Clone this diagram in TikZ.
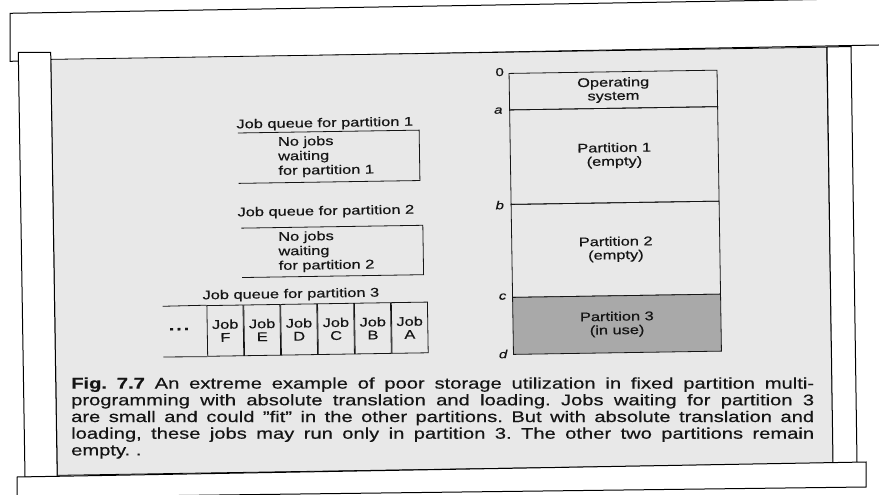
\documentclass[tikz,border=0pt]{standalone}
\usepackage{fontspec}
\newfontfamily\hv[FakeStretch=1.3,FakeBold=0.5,Ligatures=TeX]{Liberation Sans}
\definecolor{pagegray}{HTML}{E8E8E8}
\definecolor{usedgray}{HTML}{A9A9A9}
\definecolor{ink}{HTML}{151515}
\begin{document}
\begin{tikzpicture}[x=1pt,y=-1pt,
  sheet/.style={draw=black,line width=1pt,fill=white,line join=miter},
  boxline/.style={draw=ink,line width=0.8pt},
  lab/.style={font=\hv\fontsize{12.6}{14.5}\selectfont,text=ink,inner sep=0pt,transform shape},
  addr/.style={font=\hv\fontsize{11.5}{12}\selectfont,text=ink,inner sep=0pt,anchor=east,transform shape},
  part/.style={boxline,minimum width=208pt,inner sep=0pt,align=center,
    font=\hv\fontsize{12.6}{13.5}\selectfont,text=ink,transform shape},
  cell/.style={boxline,minimum width=36.1pt,minimum height=50.7pt,inner sep=0pt,align=center,
    font=\hv\fontsize{12.6}{13}\selectfont,text=ink,transform shape},
  slot/.style={minimum width=181pt,minimum height=50pt,inner sep=0pt,transform shape},
]
\useasboundingbox (0,0) rectangle (879,495);
\clip (0,0) rectangle (879,495);
\fill[white] (0,0) rectangle (879,495);

% upper paper strip
\path[sheet] (10,61.3) -- (10,13.3) -- (800,-0.2) -- (900,-2) -- (900,44.6) -- cycle;

% the printed page, tilted a little
\begin{scope}[rotate around={0.9:(442,261.25)}]
  \path[fill=pagegray,draw=black,line width=0.8pt] (54,53.25) rectangle (830,469.25);

  % memory layout
  \node[part,minimum height=36.5pt] (os) at (616,92.75) {Operating\\system};
  \node[part,minimum height=94.5pt] (p1) at (616,158.25) {Partition 1\\(empty)};
  \node[part,minimum height=93pt] (p2) at (616,252) {Partition 2\\(empty)};
  \node[part,minimum height=57pt,fill=usedgray] (p3) at (616,327) {Partition 3\\(in use)};

  \node[addr] (l0) at (507,73) {0};
  \node[addr] (la) at (505,111.5) {\itshape a};
  \node[addr] (lb) at (505,206) {\itshape b};
  \node[addr] (lc) at (506,297.6) {\itshape c};
  \node[addr] (ld) at (506,355) {\itshape d};

  % queue for partition 1
  \node[lab,anchor=base] (t1) at (327,125.2) {Job queue for partition 1};
  \node[slot] (q1) at (330.5,155) {};
  \draw[boxline] (q1.north west) -- (q1.north east) -- (q1.south east) -- (q1.south west);
  \node[lab,anchor=west,align=left] (w1) at (279.7,154.6) {No jobs\\waiting\\for partition 1};

  % queue for partition 2
  \node[lab,anchor=base] (t2) at (326.7,213.2) {Job queue for partition 2};
  \node[slot,minimum height=49pt] (q2) at (332.7,249.7) {};
  \draw[boxline] (q2.north west) -- (q2.north east) -- (q2.south east) -- (q2.south west);
  \node[lab,anchor=west,align=left] (w2) at (278.5,249.6) {No jobs\\waiting\\for partition 2};

  % queue for partition 3
  \node[lab,anchor=base] (t3) at (290.4,295.6) {Job queue for partition 3};
  \node[cell] (jF) at (224.26,327.25) {Job\\F};
  \node[cell,anchor=west] (jE) at (jF.east) {Job\\E};
  \node[cell,anchor=west] (jD) at (jE.east) {Job\\D};
  \node[cell,anchor=west] (jC) at (jD.east) {Job\\C};
  \node[cell,anchor=west] (jB) at (jC.east) {Job\\B};
  \node[cell,anchor=west] (jA) at (jB.east) {Job\\A};
  \coordinate (q3top) at (161.9,301.9);
  \coordinate (q3bot) at (161.9,352.6);
  \draw[boxline] (q3top) -- (jF.north west);
  \draw[boxline] (q3bot) -- (jF.south west);
  \node[lab,font=\hv\bfseries\fontsize{15}{15}\selectfont] (more) at (178,325) {.\kern2pt.\kern2pt.};
\end{scope}

% side strips of paper
\path[sheet] (18.3,52.3) -- (50.7,52.3) -- (57.2,477) -- (25,477) -- cycle;
\path[sheet] (827,47) -- (851,46.5) -- (857,462.5) -- (833,462.5) -- cycle;
% lower paper strip
\path[sheet] (17,497.5) -- (17,477) -- (866,462) -- (866,487) -- cycle;

% caption
\node[anchor=north west,inner sep=0pt,text width=743pt,align=justify,text=ink,
  font=\hv\fontsize{15.5}{16.7}\selectfont] (cap) at (71,377.2)
  {\frenchspacing\tolerance=10000\hbadness=10000\textbf{Fig. 7.7} An extreme example of poor storage utilization in fixed partition multi-\linebreak
  programming with absolute translation and loading. Jobs waiting for partition 3\linebreak
  are small and could ''fit'' in the other partitions. But with absolute translation and\linebreak
  loading, these jobs may run only in partition 3. The other two partitions remain\linebreak
  empty.~.};
\end{tikzpicture}
\end{document}
